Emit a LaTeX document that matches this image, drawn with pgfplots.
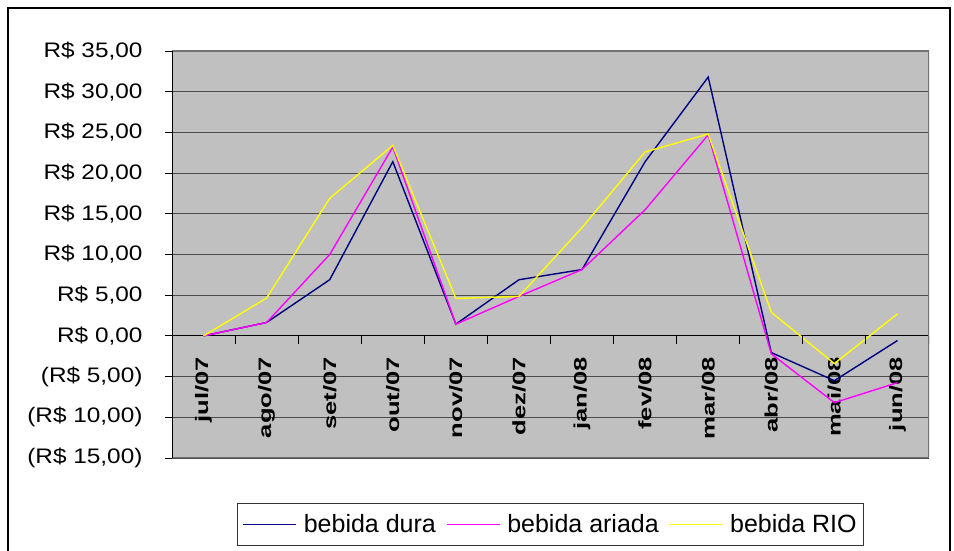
\documentclass[border=0pt]{standalone}
\usepackage{fontspec}
\setmainfont{Liberation Sans}
\newfontfamily\tickfont[FakeStretch=1.16]{Liberation Sans}
\usepackage{graphicx}
\usepackage{pgfplots}
\pgfplotsset{compat=1.18}
\definecolor{dura}{RGB}{0,0,128}
\definecolor{ariada}{RGB}{255,0,255}
\definecolor{rio}{RGB}{255,255,0}
\definecolor{plotbg}{RGB}{192,192,192}
\newcommand{\xl}[1]{\scalebox{1.42}[1]{#1}}

\begin{document}
\begin{tikzpicture}
\useasboundingbox (0,0) rectangle (954pt,551pt);
\draw[line width=2pt] (8pt,0pt) -- (8pt,543pt) -- (950pt,543pt) -- (950pt,0pt);
\begin{axis}[
    at={(172pt,93pt)}, anchor=south west,
    scale only axis,
    width=757pt, height=407pt,
    xmin=-0.5, xmax=11.5,
    ymin=-15, ymax=35,
    axis x line=middle, axis y line=left,
    axis line style={-, black, line width=0.9pt},
    axis background/.style={fill=plotbg},
    xtick={0,...,11},
    xticklabels={\xl{jul/07},\xl{ago/07},\xl{set/07},\xl{out/07},\xl{nov/07},\xl{dez/07},\xl{jan/08},\xl{fev/08},\xl{mar/08},\xl{abr/08},\xl{mai/08},\xl{jun/08}},
    xtick style={draw=none},
    xticklabel style={font=\bfseries\fontsize{18}{18}\selectfont, rotate=90, anchor=east, outer xsep=11pt},
    ytick={-15,-10,...,35},
    yticklabels={{(R\$ 15,00)},{(R\$ 10,00)},{(R\$ 5,00)},{R\$ 0,00},{R\$ 5,00},{R\$ 10,00},{R\$ 15,00},{R\$ 20,00},{R\$ 25,00},{R\$ 30,00},{R\$ 35,00}},
    yticklabel style={font=\tickfont\fontsize{21}{21}\selectfont, anchor=east, xshift=-19pt},
    ytick style={black, line width=0.9pt},
    tick align=outside,
    major tick length=7pt,
    ymajorgrids=true,
    grid style={black!70, line width=0.8pt},
    legend style={at={(0.0859,-0.1106)}, anchor=north west, draw=black!80, line width=0.8pt,
        font=\fontsize{25}{25}\selectfont, inner ysep=9pt, inner xsep=5pt,
        /tikz/every odd column/.append style={column sep=5pt},
        /tikz/every even column/.append style={column sep=8pt}},
    legend columns=3,
    legend image code/.code={\draw[#1] (0pt,0pt) -- (53pt,0pt);},
    every axis plot/.append style={line width=1.4pt},
]
\addplot[dura] coordinates {
    (0,0) (1,1.65) (2,6.9) (3,21.4) (4,1.44) (5,6.9) (6,8.15) (7,21.4) (8,31.8) (9,-2.05) (10,-5.5) (11,-0.57)
};
\addlegendentry{bebida dura}
\addplot[ariada] coordinates {
    (0,0) (1,1.65) (2,10.0) (3,23.2) (4,1.44) (5,4.85) (6,8.15) (7,15.5) (8,24.7) (9,-2.2) (10,-8.2) (11,-5.75)
};
\addlegendentry{bebida ariada}
\addplot[rio] coordinates {
    (0,0) (1,4.65) (2,16.9) (3,23.4) (4,4.6) (5,4.85) (6,13.3) (7,22.6) (8,24.8) (9,2.9) (10,-3.4) (11,2.7)
};
\addlegendentry{bebida RIO}
\draw[black!55, line width=1.2pt] (rel axis cs:0,0) -- (rel axis cs:1,0) -- (rel axis cs:1,1) -- (rel axis cs:0,1);
\draw[black, line width=0.9pt] (rel axis cs:0,0) -- (rel axis cs:0,1);
\pgfplotsinvokeforeach{-0.5,0.5,1.5,2.5,3.5,4.5,5.5,6.5,7.5,8.5,9.5,10.5,11.5}{
    \draw[black, line width=0.9pt] (axis cs:#1,0) -- ++(0pt,-8pt);
}
\end{axis}
\end{tikzpicture}
\end{document}
